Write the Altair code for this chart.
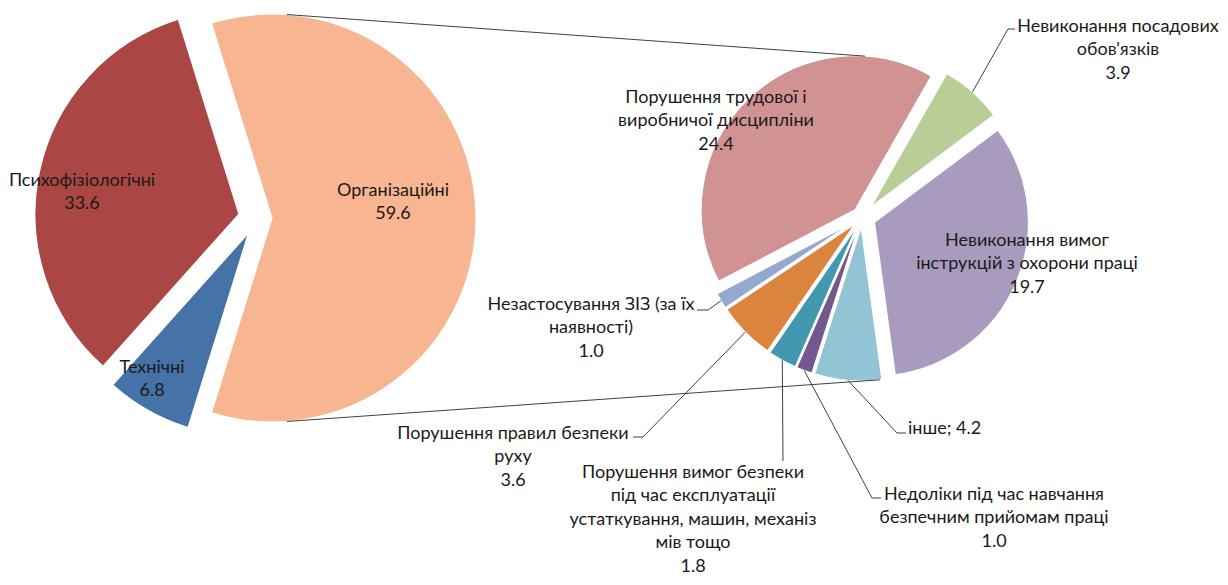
import math
import altair as alt
import pandas as pd

# ---------------- data ----------------
main_categories = ["Організаційні", "Технічні", "Психофізіологічні"]
main_values = [59.6, 6.8, 33.6]
main_label_lines = [["Організаційні"], ["Технічні"], ["Психофізіологічні"]]

sub_categories = [
    "Порушення трудової і виробничої дисципліни",
    "Невиконання посадових обов'язків",
    "Невиконання вимог інструкцій з охорони праці",
    "інше",
    "Недоліки під час навчання безпечним прийомам праці",
    "Порушення вимог безпеки під час експлуатації устаткування, машин, механізмів тощо",
    "Порушення правил безпеки руху",
    "Незастосування ЗІЗ (за їх наявності)",
]
sub_values = [24.4, 3.9, 19.7, 4.2, 1.0, 1.8, 3.6, 1.0]
sub_label_lines = [
    ["Порушення трудової і", "виробничої дисципліни"],
    ["Невиконання  посадових", "обов'язків"],
    ["Невиконання вимог", "інструкцій з охорони праці"],
    ["інше"],
    ["Недоліки під час навчання", "безпечним прийомам праці"],
    ["Порушення вимог безпеки", "під час експлуатації", "устаткування, машин, механіз", "мів тощо"],
    ["Порушення правил безпеки", "руху"],
    ["Незастосування ЗІЗ (за їх", "наявності)"],
]
sub_label_inline = [False, False, False, True, False, False, False, False]

# ---------------- style ----------------
MARGIN = 8
W, H = 1228 - 2 * MARGIN, 585 - 2 * MARGIN
FONT = "Lato"
FS = 18
LH = 23.4
TEXT_COLOR = "#1a1a1a"
LINE_COLOR = "#404040"

MAIN_CENTER = (257, 218)
MAIN_R = 204
MAIN_EXPLODE = [15, 17, 18.5]
MAIN_COLORS = ["#F8B591", "#4572A7", "#AA4643"]
MAIN_LABEL_POS = [(393, 190), (152, 367), (82, 180)]  # centre x, first-line middle y

SUB_CENTER = (862, 217)
SUB_R = 154
SUB_START_DEG = 242.3
SUB_EXPLODE = [10, 13, 13.5, 10, 10, 10, 10, 10]
SUB_COLORS = ["#D19392", "#B9CE96", "#A99BBD", "#93C4D5", "#73588F", "#4198AF", "#DB843D", "#95A9D0"]
SUB_LABEL_POS = [(716, 97), (1118, 26), (1027, 240), (908, 428), (994, 494), (693, 472), (513, 433), (591, 304)]
SUB_LABEL_ALIGN = ["center", "center", "center", "left", "center", "center", "center", "center"]
# leader polyline points after the slice-edge start point (None = no leader)
SUB_LEADERS = [
    None,
    [(1008, 29), (1015, 29)],
    None,
    [(897, 433), (906, 433)],
    [(872, 498), (881, 498)],
    [(783, 461)],
    [(643, 437), (633, 437)],
    [(708, 310), (697, 310)],
]
# pie-of-pie connectors: (main slice, angle deg) -> (sub slice, angle deg)
CONNECTORS = [(0, 4.2, 0, 3.7), (0, 175.8, 3, 173.0)]


def geometry(values, start_deg, center, explode):
    total = sum(values)
    rows, cum = [], 0.0
    for i, v in enumerate(values):
        a0 = start_deg + 360.0 * cum / total
        a1 = a0 + 360.0 * v / total
        mid = math.radians((a0 + a1) / 2)
        cx = center[0] + explode[i] * math.sin(mid)
        cy = center[1] - explode[i] * math.cos(mid)
        rows.append(dict(start=cum, end=cum + v, cx=cx, cy=cy, mid=mid))
        cum += v
    return rows, total


main_start = (90 - 180.0 * main_values[0] / sum(main_values)) % 360
main_geo, main_total = geometry(main_values, main_start, MAIN_CENTER, MAIN_EXPLODE)
sub_geo, sub_total = geometry(sub_values, SUB_START_DEG, SUB_CENTER, SUB_EXPLODE)

all_cats = main_categories + sub_categories
all_cols = MAIN_COLORS + SUB_COLORS
color_enc = alt.Color("label:N", scale=alt.Scale(domain=all_cats, range=all_cols), legend=None)


def arc_df(cats, values, geo):
    return pd.DataFrame({
        "label": cats,
        "value": values,
        "start": [g["start"] for g in geo],
        "end": [g["end"] for g in geo],
        "cx": [g["cx"] - MARGIN for g in geo],
        "cy": [g["cy"] - MARGIN for g in geo],
    })


def arc_layer(df, total, start_deg, radius):
    s = math.radians(start_deg)
    return alt.Chart(df).mark_arc(outerRadius=radius, stroke="white", strokeWidth=1.2).encode(
        theta=alt.Theta("start:Q", scale=alt.Scale(domain=[0, total], range=[s, s + 2 * math.pi]), stack=False),
        theta2=alt.Theta2("end:Q"),
        x=alt.X("cx:Q", scale=None, stack=False),
        y=alt.Y("cy:Q", scale=None, stack=False),
        color=color_enc,
    )


main_arcs = arc_layer(arc_df(main_categories, main_values, main_geo), main_total, main_start, MAIN_R)
sub_arcs = arc_layer(arc_df(sub_categories, sub_values, sub_geo), sub_total, SUB_START_DEG, SUB_R)


def edge(geo_row, radius, ang_rad):
    return (geo_row["cx"] + radius * math.sin(ang_rad), geo_row["cy"] - radius * math.cos(ang_rad))


# lines: connectors + leaders
line_rows = []
for k, (mi, ma, si, sa) in enumerate(CONNECTORS):
    p0 = edge(main_geo[mi], MAIN_R, math.radians(ma))
    p1 = edge(sub_geo[si], SUB_R, math.radians(sa))
    for j, p in enumerate([p0, p1]):
        line_rows.append(dict(id=f"c{k}", k=j, x=p[0] - MARGIN, y=p[1] - MARGIN))
for i, pts in enumerate(SUB_LEADERS):
    if not pts:
        continue
    start = edge(sub_geo[i], SUB_R, sub_geo[i]["mid"])
    for j, p in enumerate([start] + pts):
        line_rows.append(dict(id=f"l{i}", k=j, x=p[0] - MARGIN, y=p[1] - MARGIN))
lines = alt.Chart(pd.DataFrame(line_rows)).mark_line(color=LINE_COLOR, strokeWidth=1).encode(
    x=alt.X("x:Q", scale=None),
    y=alt.Y("y:Q", scale=None),
    detail="id:N",
    order="k:Q",
)

# labels
BASE_SHIFT = 6  # middle of first line -> alphabetic baseline
label_rows = []
for lines_, v, pos in zip(main_label_lines, main_values, MAIN_LABEL_POS):
    label_rows.append(dict(text="\n".join(lines_ + [f"{v:.1f}"]), x=pos[0] - MARGIN,
                           y=pos[1] + BASE_SHIFT - MARGIN, align="center"))
for lines_, v, pos, al, inl in zip(sub_label_lines, sub_values, SUB_LABEL_POS, SUB_LABEL_ALIGN, sub_label_inline):
    txt = f"{' '.join(lines_)}; {v:.1f}" if inl else "\n".join(lines_ + [f"{v:.1f}"])
    label_rows.append(dict(text=txt, x=pos[0] - MARGIN, y=pos[1] + BASE_SHIFT - MARGIN, align=al))
label_df = pd.DataFrame(label_rows)


def text_layer(align):
    return alt.Chart(label_df[label_df["align"] == align]).mark_text(
        align=align, baseline="alphabetic", lineBreak="\n", font=FONT, fontSize=FS,
        lineHeight=LH, color=TEXT_COLOR,
    ).encode(
        x=alt.X("x:Q", scale=None),
        y=alt.Y("y:Q", scale=None),
        text="text:N",
    )


chart = alt.layer(
    main_arcs, sub_arcs, lines, text_layer("center"), text_layer("left")
).resolve_scale(theta="independent").properties(
    width=W, height=H, padding=0, autosize=alt.AutoSizeParams(type="none")
).configure_view(stroke=None)

chart.save("out.html", embed_options={"renderer": "svg", "actions": False})
